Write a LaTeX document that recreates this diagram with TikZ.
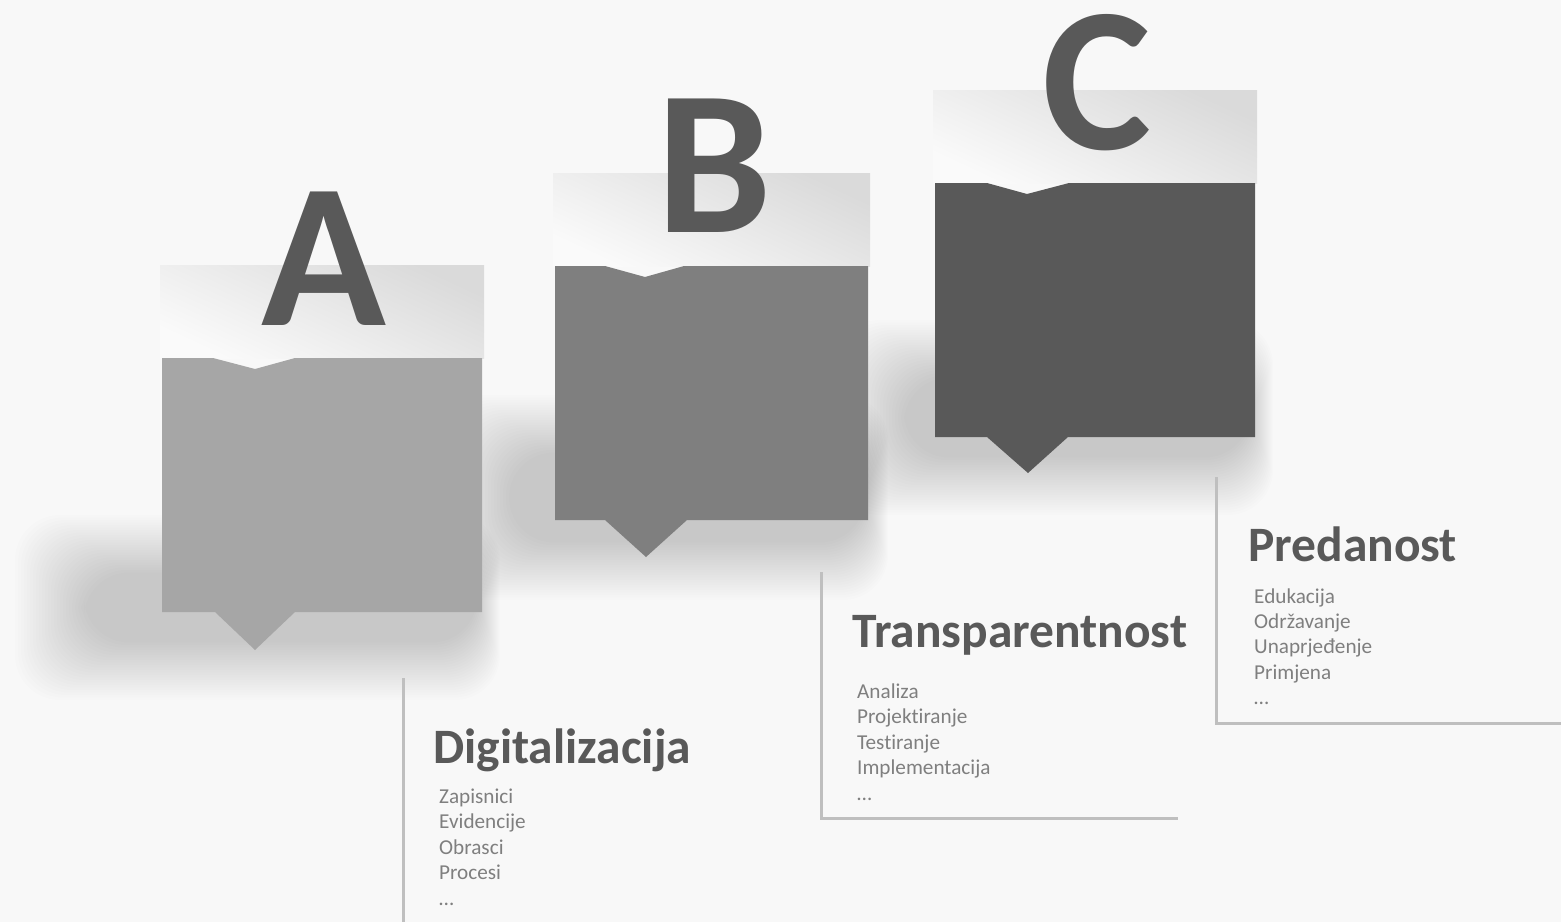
\documentclass[tikz,border=0pt]{standalone}
\usepackage{fontspec}
\setmainfont{Carlito}[Ligatures={NoCommon,NoContextual}]
\usepackage{tikz}

\definecolor{bg}{HTML}{F8F8F8}
\definecolor{dark}{HTML}{595959}
\definecolor{mid}{HTML}{7F7F7F}
\definecolor{light}{HTML}{A6A6A6}
\definecolor{itemgray}{HTML}{7F7F7F}
\definecolor{linegray}{HTML}{BFBFBF}
\definecolor{tabhi}{HTML}{DADADA}
\definecolor{tablo}{HTML}{FAFAFA}

\begin{document}
\begin{tikzpicture}[x=1pt, y=-1pt,
    letter/.style={anchor=base, inner sep=0pt, text height=140pt, text=dark, font=\bfseries\fontsize{206}{206}\selectfont},
    title/.style={anchor=base west, inner sep=0pt, text=dark, font=\bfseries\fontsize{49.5}{49.5}\selectfont},
    item/.style={anchor=base west, inner sep=0pt, text=itemgray, font=\fontsize{21.2}{21.2}\selectfont},
    tabrect/.style={top color=tabhi, bottom color=tablo, shading angle=-25},
    softshadow/.style={black, opacity=0.0085, rounded corners=45pt},
    bracket/.style={draw=linegray, line width=3pt}]
        \useasboundingbox (0,0) rectangle (1561,922);
        \fill[bg] (0,0) rectangle (1561,922);

        % soft shadows behind the boxes
        \foreach \k in {0,...,23}
            \fill[softshadow] (15+3*\k, 515+2.5*\k) rectangle (500-\k, 700-2.5*\k);
        \foreach \k in {0,...,23}
            \fill[softshadow] (440+3*\k, 395+2.5*\k) rectangle (888-\k, 600-2.5*\k);
        \foreach \k in {0,...,23}
            \fill[softshadow] (835+3*\k, 320+2.5*\k) rectangle (1273-\k, 515-2.5*\k);

        % A
        \shade[tabrect] (160,265) rectangle (484,358);
        \fill[light] (162,358) -- (213,358) -- (255,369) -- (295,358) -- (482,358)
            -- (482,612) -- (295,612) -- (255,650) -- (215,612) -- (162,612) -- cycle;
        \node[letter] (lA) at (324,325) {A};

        % B
        \shade[tabrect] (553,173) rectangle (870,266);
        \fill[mid] (555,266) -- (605,266) -- (645,277) -- (684,266) -- (868,266)
            -- (868,520) -- (687,520) -- (646,557) -- (605,520) -- (555,520) -- cycle;
        \node[letter] (lB) at (714,232) {B};

        % C
        \shade[tabrect] (933,90) rectangle (1257,183);
        \fill[dark] (935,183) -- (987,183) -- (1027,194) -- (1069,183) -- (1255,183)
            -- (1255,437) -- (1068,437) -- (1028,473) -- (987,437) -- (935,437) -- cycle;
        \node[letter] (lC) at (1097,149) {C};

        % brackets
        \draw[bracket] (403,678) -- (403,922);
        \draw[bracket] (821,572) -- (821,818) -- (1178,818);
        \draw[bracket] (1216,477) -- (1216,723) -- (1561,723);

        % texts
        \node[title] (dig) at (433,763) {Digitalizacija};
        \foreach \t [count=\i] in {Zapisnici,Evidencije,Obrasci,Procesi,…}
            \node[item] (dig\i) at (439, {803+25.6*(\i-1)}) {\t};

        \node[title] (tra) at (852,647) {Transparentnost};
        \foreach \t [count=\i] in {Analiza,Projektiranje,Testiranje,Implementacija,…}
            \node[item] (tra\i) at (857, {698+25.5*(\i-1)}) {\t};

        \node[title] (pre) at (1248,561) {Predanost};
        \foreach \t [count=\i] in {Edukacija,Održavanje,Unaprjeđenje,Primjena,…}
            \node[item] (pre\i) at (1254, {603+25.4*(\i-1)}) {\t};
    \end{tikzpicture}
\end{document}
